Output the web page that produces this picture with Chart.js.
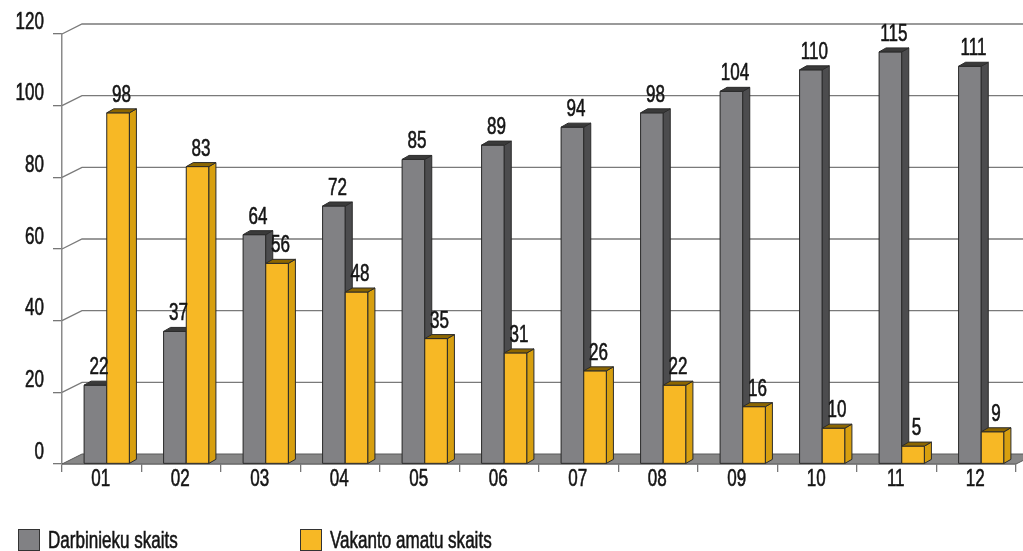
<!DOCTYPE html>
<html>
<head>
<meta charset="utf-8">
<script src="https://cdn.jsdelivr.net/npm/chart.js@4/dist/chart.umd.min.js"></script>
<style>
    html, body { margin: 0; padding: 0; background: #fff; }
    #wrap { width: 1023px; height: 551px; }
</style>
</head>
<body>
<div id="wrap"><canvas id="chart" width="1023" height="551"></canvas></div>
<script>
// Data
const months = ['01', '02', '03', '04', '05', '06', '07', '08', '09', '10', '11', '12'];
const employees = [22, 37, 64, 72, 85, 89, 94, 98, 104, 110, 115, 111];
const vacancies = [98, 83, 56, 48, 35, 31, 26, 22, 16, 10, 5, 9];
const seriesNames = ['Darbinieku skaits', 'Vakanto amatu skaits'];
const yMin = 0, yMax = 120, yStep = 20;

const FONT = "24px 'Liberation Sans', Arial, sans-serif";
const SQUEEZE = 0.71;             // the original uses a condensed face
const TEXT = '#151515';
const WALL = { x: 20, y: -10 };   // depth of the back wall
const BAR = { x: 7, y: -4 };      // depth of each bar
const SHIFT = 5;                  // bars sit a bit right of the category centre

// draw narrow text by squeezing horizontally
function squeezedText(ctx, text, x, y, align) {
    ctx.save();
    ctx.translate(x, y);
    ctx.scale(SQUEEZE, 1);
    ctx.textAlign = align;
    ctx.strokeStyle = TEXT;
    ctx.lineWidth = 0.6;
    ctx.fillText(text, 0, 0);
    ctx.strokeText(text, 0, 0);
    ctx.restore();
}

// nudge bars to the right (3D depth offset)
const shiftPlugin = {
    id: 'shift',
    afterDatasetsUpdate(chart) {
        chart.data.datasets.forEach((ds, i) => {
            chart.getDatasetMeta(i).data.forEach(el => { el.x += SHIFT; });
        });
    }
};

// floor and back wall gridlines
const wallPlugin = {
    id: 'wall',
    beforeDatasetsDraw(chart) {
        const { ctx, chartArea, scales: { y } } = chart;
        const left = chartArea.left, right = chartArea.right;
        const bottom = y.getPixelForValue(0);
        ctx.save();
        ctx.lineWidth = 1.3;
        ctx.strokeStyle = '#7a7a7a';
        y.ticks.forEach(t => {
            if (t.value <= 0) return;
            const py = y.getPixelForValue(t.value);
            ctx.beginPath();
            ctx.moveTo(left, py);
            ctx.lineTo(left + WALL.x, py + WALL.y);
            ctx.lineTo(chart.width, py + WALL.y);
            ctx.stroke();
        });
        // floor
        ctx.beginPath();
        ctx.moveTo(left, bottom);
        ctx.lineTo(right, bottom);
        ctx.lineTo(right + WALL.x, bottom + WALL.y);
        ctx.lineTo(left + WALL.x, bottom + WALL.y);
        ctx.closePath();
        ctx.fillStyle = '#878787';
        ctx.fill();
        ctx.strokeStyle = '#5a5a5a';
        ctx.lineWidth = 1;
        ctx.stroke();
        ctx.restore();
    }
};

// front, side and top faces, painted category by category so the
// grey bar's side ends up behind the yellow bar next to it
const barsPlugin = {
    id: 'bars3d',
    afterDatasetsDraw(chart) {
        const { ctx } = chart;
        const sets = chart.data.datasets;
        ctx.save();
        ctx.lineWidth = 1;
        ctx.strokeStyle = '#2b2b2b';
        ctx.lineJoin = 'round';
        months.forEach((m, j) => {
            sets.forEach((ds, i) => {
                const el = chart.getDatasetMeta(i).data[j];
                const { x, y, base, width } = el.getProps(['x', 'y', 'base', 'width'], true);
                const l = x - width / 2, r = x + width / 2;
                // front
                ctx.fillStyle = ds.backgroundColor;
                ctx.fillRect(l, y, width, base - y);
                ctx.strokeRect(l, y, width, base - y);
                // side
                ctx.beginPath();
                ctx.moveTo(r, y);
                ctx.lineTo(r + BAR.x, y + BAR.y);
                ctx.lineTo(r + BAR.x, base + BAR.y);
                ctx.lineTo(r, base);
                ctx.closePath();
                ctx.fillStyle = ds.sideColor;
                ctx.fill();
                ctx.stroke();
                // top
                ctx.beginPath();
                ctx.moveTo(l, y);
                ctx.lineTo(l + BAR.x, y + BAR.y);
                ctx.lineTo(r + BAR.x, y + BAR.y);
                ctx.lineTo(r, y);
                ctx.closePath();
                ctx.fillStyle = ds.topColor;
                ctx.fill();
                ctx.stroke();
            });
        });

        // value labels
        ctx.font = FONT;
        ctx.fillStyle = TEXT;
        ctx.textBaseline = 'alphabetic';
        sets.forEach((ds, i) => {
            chart.getDatasetMeta(i).data.forEach((el, j) => {
                squeezedText(ctx, String(ds.data[j]), el.x + BAR.x / 2, el.y + BAR.y - 7, 'center');
            });
        });
        ctx.restore();
    }
};

// axis labels and legend
const textPlugin = {
    id: 'texts',
    afterDraw(chart) {
        const { ctx, scales: { x, y } } = chart;
        ctx.save();
        ctx.font = FONT;
        ctx.fillStyle = TEXT;
        ctx.textBaseline = 'middle';
        y.ticks.forEach((t, i) => {
            squeezedText(ctx, String(t.value), 44, y.getPixelForTick(i) - 12, 'right');
        });
        x.ticks.forEach((t, i) => {
            squeezedText(ctx, months[i], x.getPixelForTick(i) - 1, 479, 'center');
        });
        // legend
        const xs = [18, 300];
        chart.data.datasets.forEach((ds, i) => {
            ctx.fillStyle = ds.backgroundColor;
            ctx.strokeStyle = '#333';
            ctx.lineWidth = 1;
            ctx.fillRect(xs[i] + 0.5, 529.5, 21, 21);
            ctx.strokeRect(xs[i] + 0.5, 529.5, 21, 21);
            ctx.fillStyle = TEXT;
            squeezedText(ctx, ds.label, xs[i] + 30, 541, 'left');
        });
        ctx.restore();
    }
};

const ctx = document.getElementById('chart').getContext('2d');
new Chart(ctx, {
    type: 'bar',
    data: {
        labels: months,
        datasets: [{
            label: seriesNames[0],
            data: employees,
            backgroundColor: '#818184',
            sideColor: '#4c4c4e',
            topColor: '#3a3a3a',
            borderColor: '#2b2b2b',
            borderWidth: 1
        }, {
            label: seriesNames[1],
            data: vacancies,
            backgroundColor: '#f7b825',
            sideColor: '#d79f0f',
            topColor: '#8c6600',
            borderColor: '#2b2b2b',
            borderWidth: 1
        }]
    },
    options: {
        responsive: false,
        animation: false,
        layout: { padding: { top: 34, right: 7, left: 0, bottom: 0 } },
        categoryPercentage: 0.57,
        barPercentage: 1.0,
        plugins: {
            legend: { display: false },
            tooltip: { enabled: false }
        },
        scales: {
            x: {
                afterFit(scale) { scale.height = 87; },
                grid: { offset: true, drawOnChartArea: false, tickLength: 8, color: '#777', lineWidth: 1.3 },
                border: { color: '#777', width: 1.5 },
                ticks: { display: false }
            },
            y: {
                min: yMin,
                max: yMax,
                afterFit(scale) { scale.width = 62; },
                grid: { drawOnChartArea: false, tickLength: 9, color: '#777', lineWidth: 1.3 },
                border: { color: '#8a8a8a', width: 1.5 },
                ticks: { stepSize: yStep, display: false }
            }
        }
    },
    plugins: [shiftPlugin, wallPlugin, barsPlugin, textPlugin]
});
</script>
</body>
</html>
